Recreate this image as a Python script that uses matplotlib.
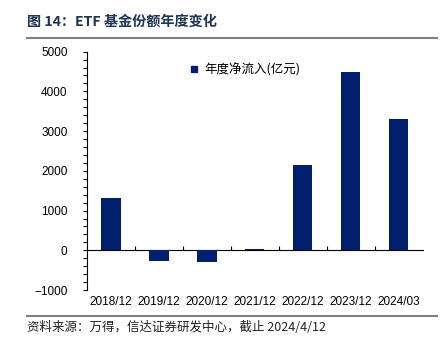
import numpy as np
import matplotlib
matplotlib.use('Agg')
import matplotlib.pyplot as plt
from matplotlib.ticker import MultipleLocator, FixedLocator
from matplotlib.lines import Line2D

plt.rcParams['font.family'] = ['Liberation Sans', 'Noto Sans CJK SC', 'DejaVu Sans']

# data
cats = ['2018/12', '2019/12', '2020/12', '2021/12', '2022/12', '2023/12', '2024/03']
flows = [1310, -270, -300, 25, 2150, 4480, 3300]
series_name = '年度净流入(亿元)'
title = '图 14：ETF 基金份额年度变化'
source = '资料来源：万得，信达证券研发中心，截止 2024/4/12'

barColor = '#00206f'
cjk = ['Noto Sans CJK SC', 'DejaVu Sans']

fig = plt.figure(figsize=(4.46, 3.42), dpi=100)
ax = fig.add_axes([0.195, 0.152, 0.753, 0.697])

x = np.arange(len(cats))
ax.bar(x, flows, width=0.4, color=barColor, zorder=3)

ax.set_xlim(-0.5, len(cats) - 0.5)
ax.set_ylim(-1000, 5000)
ax.yaxis.set_major_locator(MultipleLocator(1000))
ax.yaxis.set_minor_locator(MultipleLocator(200))
ax.tick_params(axis='y', which='major', length=3, width=0.8, pad=11, labelsize=8.5)
ax.tick_params(axis='y', which='minor', length=3, width=0.8)

ax.spines['top'].set_visible(False)
ax.spines['right'].set_visible(False)
ax.spines['bottom'].set_position(('data', 0))
ax.spines['left'].set_linewidth(0.8)
ax.spines['bottom'].set_linewidth(0.8)

ax.set_xticks(x)
ax.set_xticklabels(cats)
ax.xaxis.set_minor_locator(FixedLocator(x[:-1] + 0.5))
ax.tick_params(axis='x', which='major', length=0, pad=33, labelsize=8.5)
ax.tick_params(axis='x', which='minor', direction='in', length=3, width=0.8)

h = Line2D([], [], marker='s', color='none', markerfacecolor=barColor,
           markeredgecolor=barColor, markersize=5)
ax.legend([h], [series_name], loc='center', bbox_to_anchor=(0.47, 0.925),
          frameon=False, handlelength=0.8, handletextpad=0.4,
          prop={'family': cjk, 'size': 9})

# title, rules, source
fig.text(0.06, 0.935, title, fontsize=10.2, fontweight='bold', color='#1f3556',
         family=cjk, va='center')
fig.add_artist(Line2D([0.06, 0.98], [0.888, 0.888], color='#808080', lw=1.5))
fig.add_artist(Line2D([0.06, 0.98], [0.077, 0.077], color='#808080', lw=1.5))
fig.text(0.06, 0.043, source, fontsize=9, style='italic', color='#222222',
         family=cjk, va='center')

plt.savefig('out.png', dpi=100)
